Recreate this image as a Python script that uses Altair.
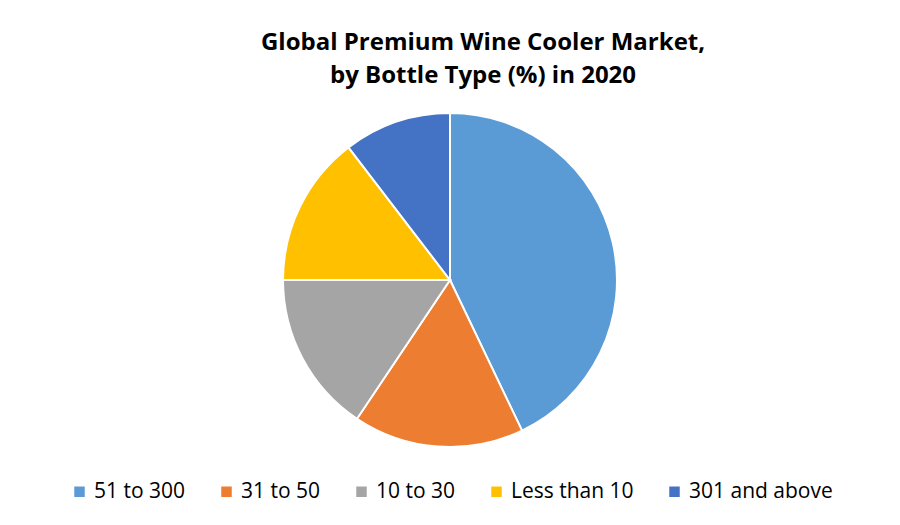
import altair as alt
import pandas as pd

categories = ["51 to 300", "31 to 50", "10 to 30", "Less than 10", "301 and above"]
shares = [42.9, 16.5, 15.6, 14.6, 10.4]
colors = ["#5B9BD5", "#ED7D31", "#A5A5A5", "#FFC000", "#4472C4"]

df = pd.DataFrame({"category": categories, "share": shares, "order": list(range(len(categories)))})

pie = alt.Chart(df).mark_arc(radius=167, stroke="white", strokeWidth=2).encode(
    theta=alt.Theta("share:Q", stack=True),
    order=alt.Order("order:Q"),
    color=alt.Color(
        "category:N",
        scale=alt.Scale(domain=categories, range=colors),
        legend=alt.Legend(
            title=None,
            orient="none",
            direction="horizontal",
            legendX=61,
            legendY=368,
            symbolType="square",
            symbolSize=110,
            symbolStrokeWidth=0,
            labelFont="Open Sans",
            labelFontSize=21,
            labelColor="#000000",
            labelOffset=4,
            columnPadding=30,
            padding=0,
            labelLimit=300,
        ),
    ),
)

chart = pie.properties(
    width=884,
    height=334,
    padding={"left": 0, "right": 0, "top": 105, "bottom": 62},
    autosize=alt.AutoSizeParams(type="none"),
    title=alt.TitleParams(
        text=["Global Premium Wine Cooler Market,", "by Bottle Type (%) in 2020"],
        font="Open Sans",
        fontSize=24,
        fontWeight="bold",
        color="#000000",
        anchor="middle",
        lineHeight=33,
        offset=21,
        dx=33,
    ),
).configure_view(stroke=None)

chart.save("out.html", embed_options={"renderer": "svg", "actions": False})
